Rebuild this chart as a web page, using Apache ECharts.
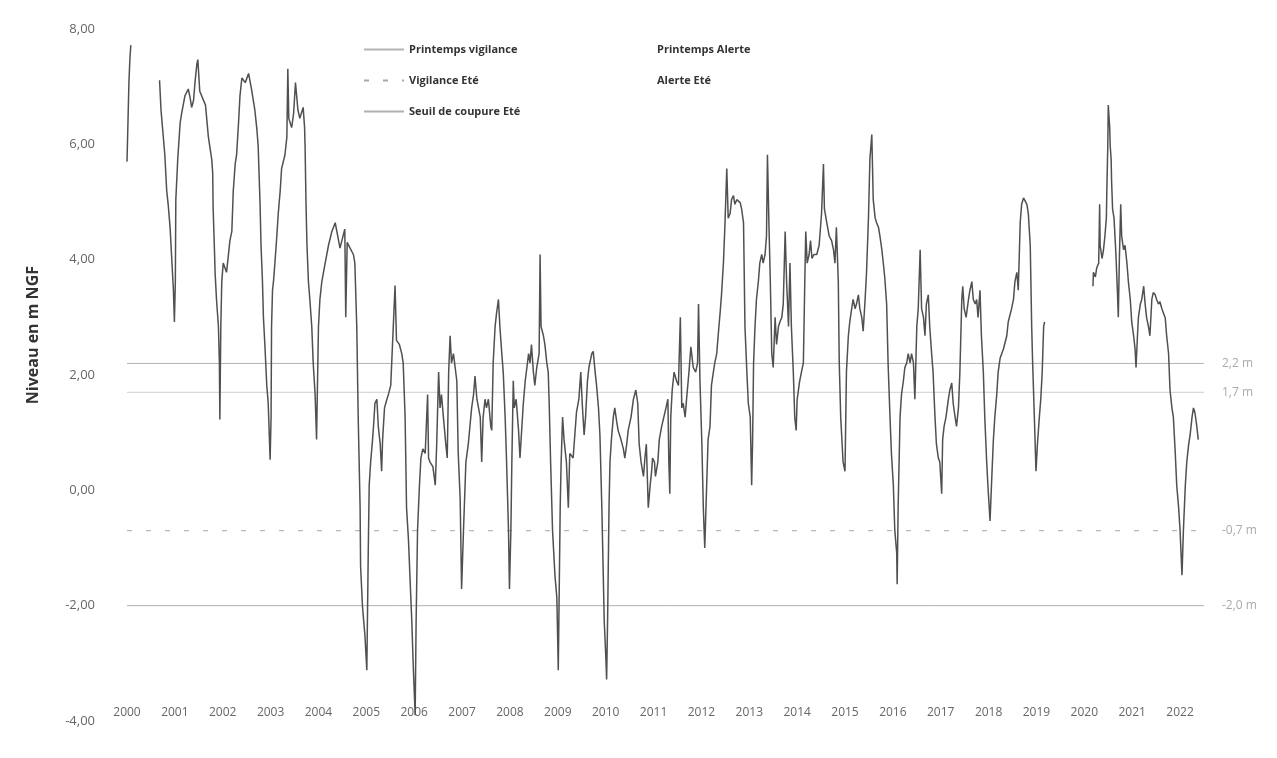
<!DOCTYPE html>
<html><head><meta charset="utf-8">
<script src="https://cdn.jsdelivr.net/npm/echarts@6/dist/echarts.min.js"></script>
<style>html,body{margin:0;padding:0;background:#fff;}#c{width:1277px;height:758px;}</style>
</head><body><div id="c"></div>
<script>
// Observed groundwater level (m NGF), decimal year / level ('-' = no data)
const obsYears = [
2000.00,2000.02,2000.04,2000.06,2000.08,2000.38,
2000.68,2000.71,2000.79,2000.83,2000.86,2000.90,2000.93,2000.97,2000.99,2001.01,2001.02,2001.06,2001.11,2001.14,2001.21,2001.28,2001.32,2001.35,2001.39,2001.42,2001.46,2001.48,2001.52,
2001.64,2001.70,2001.77,2001.79,2001.80,2001.83,2001.84,2001.87,2001.91,2001.93,2001.94,2001.96,2001.98,2002.01,2002.08,2002.15,2002.19,2002.22,2002.26,2002.29,2002.33,2002.36,2002.40,2002.47,2002.54,2002.60,2002.67,2002.71,2002.74,
2002.78,2002.80,2002.83,2002.85,2002.88,2002.92,2002.95,2002.99,2003.01,2003.02,2003.04,2003.06,2003.09,2003.13,2003.16,2003.20,2003.23,2003.30,2003.34,2003.36,2003.38,2003.44,2003.48,2003.52,2003.57,2003.61,2003.68,2003.71,2003.72,
2003.74,2003.76,2003.79,2003.82,2003.86,2003.89,2003.93,2003.96,2004.00,2004.03,2004.07,2004.14,2004.21,2004.28,2004.35,2004.45,2004.55,2004.57,2004.60,2004.66,2004.73,2004.76,2004.80,2004.83,2004.87,2004.88,2004.92,2004.97,
2005.01,2005.04,2005.06,2005.09,2005.13,2005.15,2005.18,2005.22,2005.25,2005.29,2005.32,2005.34,2005.38,2005.43,2005.46,2005.51,2005.60,2005.63,2005.69,2005.74,2005.77,2005.81,2005.84,2005.88,2005.91,2005.95,2005.98,
2006.02,2006.04,2006.07,2006.11,2006.14,2006.18,2006.23,2006.28,2006.30,2006.33,2006.39,2006.44,2006.47,2006.51,2006.54,2006.57,2006.61,2006.66,2006.69,2006.72,2006.75,2006.78,2006.82,2006.85,2006.89,2006.92,2006.96,2006.99,
2007.03,2007.08,2007.13,2007.20,2007.24,2007.27,2007.31,2007.38,2007.41,2007.44,2007.48,2007.51,2007.55,2007.60,2007.62,2007.65,2007.69,2007.72,2007.76,2007.79,2007.83,2007.86,2007.90,2007.93,2007.97,2007.99,
2008.02,2008.04,2008.07,2008.09,2008.13,2008.18,2008.21,2008.25,2008.28,2008.32,2008.39,2008.42,2008.45,2008.49,2008.52,2008.56,2008.61,2008.63,2008.65,2008.70,2008.73,2008.77,2008.80,2008.82,2008.85,2008.89,2008.94,2008.98,
2009.01,2009.05,2009.07,2009.10,2009.13,2009.18,2009.22,2009.25,2009.32,2009.39,2009.44,2009.48,2009.51,2009.55,2009.58,2009.62,2009.65,2009.71,2009.74,2009.78,2009.81,2009.85,2009.88,2009.92,2009.94,2009.97,
2010.00,2010.02,2010.04,2010.07,2010.09,2010.12,2010.16,2010.19,2010.23,2010.26,2010.32,2010.37,2010.40,2010.44,2010.47,2010.53,2010.58,2010.63,2010.67,2010.70,2010.74,2010.79,2010.82,2010.85,2010.89,2010.93,2010.96,2010.98,
2011.02,2011.04,2011.09,2011.12,2011.17,2011.20,2011.26,2011.30,2011.32,2011.34,2011.36,2011.39,2011.43,2011.48,2011.52,2011.56,2011.59,2011.62,2011.66,2011.69,2011.74,2011.78,2011.83,2011.88,2011.92,2011.94,2011.97,
2012.01,2012.04,2012.07,2012.11,2012.14,2012.18,2012.21,2012.25,2012.28,2012.32,2012.35,2012.39,2012.42,2012.46,2012.49,2012.53,2012.56,2012.60,2012.63,2012.67,2012.70,2012.74,2012.77,2012.81,2012.84,2012.88,2012.91,2012.95,2012.98,
2013.02,2013.05,2013.07,2013.09,2013.12,2013.15,2013.19,2013.22,2013.26,2013.29,2013.33,2013.36,2013.38,2013.41,2013.44,2013.47,2013.50,2013.54,2013.57,2013.61,2013.64,2013.68,2013.71,2013.75,2013.78,2013.82,
2013.85,2013.88,2013.92,2013.95,2013.98,2014.00,2014.05,2014.09,2014.13,2014.16,2014.18,2014.21,2014.25,2014.28,2014.31,2014.35,2014.41,2014.46,2014.51,2014.55,2014.57,2014.62,2014.67,2014.72,2014.76,2014.79,2014.82,2014.86,2014.88,2014.91,2014.94,2014.96,
2015.00,2015.03,2015.07,2015.10,2015.14,2015.17,2015.21,2015.24,2015.28,2015.31,2015.35,2015.38,2015.42,2015.45,2015.49,2015.52,2015.56,2015.59,2015.63,2015.66,2015.70,2015.73,2015.77,2015.80,2015.83,2015.87,2015.90,2015.94,2015.97,
2016.01,2016.04,2016.08,2016.09,2016.11,2016.15,2016.18,2016.22,2016.25,2016.29,2016.32,2016.36,2016.39,2016.43,2016.46,2016.50,2016.53,2016.57,2016.60,2016.64,2016.67,2016.70,2016.74,2016.77,2016.81,2016.84,2016.88,2016.91,2016.95,2016.98,
2017.02,2017.04,2017.07,2017.11,2017.16,2017.19,2017.23,2017.26,2017.30,2017.33,2017.37,2017.40,2017.44,2017.46,2017.49,2017.53,2017.58,2017.61,2017.65,2017.68,2017.72,2017.75,2017.78,2017.82,2017.85,2017.89,2017.92,2017.96,2017.99,
2018.03,2018.06,2018.10,2018.13,2018.17,2018.20,2018.24,2018.31,2018.38,2018.41,2018.45,2018.48,2018.52,2018.55,2018.59,2018.62,2018.66,2018.69,2018.73,2018.76,2018.80,2018.83,2018.87,2018.90,2018.92,2018.95,2018.97,2018.99,
2019.02,2019.06,2019.09,2019.12,2019.15,2019.17,2019.60,
2020.18,2020.19,2020.23,2020.26,2020.30,2020.32,2020.33,2020.37,2020.40,2020.43,2020.46,2020.47,2020.49,2020.50,2020.53,2020.54,2020.56,2020.57,2020.59,2020.62,2020.64,2020.66,2020.69,2020.71,2020.73,2020.76,2020.78,2020.82,2020.85,2020.89,2020.92,2020.96,2020.99,
2021.03,2021.06,2021.08,2021.11,2021.13,2021.17,2021.20,2021.24,2021.27,2021.30,2021.34,2021.37,2021.41,2021.44,2021.48,2021.51,2021.55,2021.58,2021.62,2021.65,2021.69,2021.72,2021.76,2021.79,2021.83,2021.86,2021.90,2021.93,2021.97,
2022.00,2022.04,2022.07,2022.11,2022.14,2022.18,2022.21,2022.25,2022.28,2022.31,2022.35,2022.38
];
const obsLevels = [
5.70,6.37,7.07,7.47,7.72,'-',
7.11,6.60,5.82,5.19,4.96,4.56,4.09,3.47,2.92,3.62,5.04,5.74,6.37,6.53,6.84,6.96,6.80,6.64,6.76,7.07,7.39,7.47,6.92,
6.68,6.13,5.74,5.51,4.88,4.09,3.78,3.31,2.84,2.21,1.23,2.84,3.62,3.94,3.78,4.33,4.49,5.19,5.66,5.82,6.37,6.84,7.15,7.07,7.23,6.96,6.60,6.29,5.98,
4.96,4.25,3.62,3.00,2.53,1.82,1.51,0.53,1.27,2.84,3.47,3.62,3.94,4.41,4.80,5.19,5.58,5.82,6.13,7.31,6.45,6.29,6.53,7.07,6.60,6.45,6.64,6.29,5.98,
4.96,4.25,3.62,3.31,2.84,2.21,1.66,0.88,2.84,3.31,3.62,3.94,4.25,4.49,4.64,4.20,4.53,3.00,4.30,4.20,4.09,3.94,2.84,1.27,-0.30,-1.32,-2.02,-2.51,
-3.12,-1.08,0.09,0.49,0.88,1.11,1.51,1.58,1.11,0.80,0.33,0.88,1.43,1.58,1.66,1.82,3.55,2.60,2.53,2.37,2.21,1.27,-0.30,-0.85,-1.47,-2.27,-3.04,
-3.90,-2.27,-0.69,0.09,0.56,0.72,0.64,1.66,0.56,0.49,0.41,0.09,0.80,2.05,1.43,1.66,1.27,0.80,0.56,2.05,2.68,2.21,2.37,2.37,1.90,0.64,-0.14,-1.71,
-0.69,0.49,0.80,1.43,1.66,1.98,1.58,1.27,0.49,1.27,1.58,1.43,1.58,1.11,1.04,2.21,2.84,3.07,3.31,2.84,2.37,2.05,1.27,0.49,-0.69,-1.71,
-0.69,0.49,1.90,1.43,1.58,1.04,0.56,1.11,1.51,1.90,2.37,2.21,2.53,2.05,1.82,2.13,2.37,4.09,2.84,2.68,2.53,2.21,2.05,1.51,0.49,-0.69,-1.47,-1.86,
-3.12,-0.30,0.49,1.27,0.88,0.49,-0.30,0.64,0.56,1.35,1.58,2.05,1.51,0.96,1.27,1.90,2.13,2.37,2.41,2.05,1.82,1.43,0.96,-0.30,-1.08,-2.27,
-2.82,-3.28,-2.27,-0.30,0.49,0.88,1.27,1.43,1.19,1.04,0.88,0.72,0.56,0.80,1.04,1.27,1.58,1.74,1.51,0.80,0.49,0.24,0.56,0.80,-0.30,0.09,0.33,0.56,
0.49,0.24,0.49,0.88,1.11,1.11,1.43,1.58,0.49,-0.06,1.27,1.74,2.05,1.90,1.82,3.00,1.43,1.51,1.27,1.58,2.05,2.49,2.13,2.05,2.21,3.23,1.90,
0.80,-0.30,-1.00,0.09,0.88,1.11,1.82,2.05,2.21,2.37,2.68,3.07,3.39,3.94,4.56,5.58,4.72,4.80,5.04,5.11,4.96,5.04,5.07,4.99,4.88,4.64,2.84,2.05,1.51,
1.27,0.09,0.88,2.21,2.84,3.31,3.62,3.94,4.09,3.94,4.09,4.41,5.82,4.64,3.62,2.37,2.13,3.00,2.53,2.84,2.92,3.00,3.23,4.49,3.62,2.84,
3.94,2.84,2.05,1.27,1.04,1.57,1.88,2.05,2.21,3.62,4.49,3.94,4.09,4.33,4.02,4.09,4.09,4.25,4.80,5.66,4.88,4.64,4.41,4.33,4.17,3.94,4.56,3.62,2.21,1.27,0.80,0.49,
0.33,2.05,2.68,2.92,3.15,3.31,3.15,3.23,3.39,3.15,3.00,2.76,3.31,3.78,4.72,5.74,6.17,5.04,4.72,4.64,4.56,4.41,4.17,3.94,3.70,3.23,2.21,1.27,0.64,
0.09,-0.69,-1.08,-1.63,-0.30,1.27,1.66,1.90,2.13,2.21,2.37,2.21,2.37,2.21,1.58,2.84,3.15,4.17,3.15,3.00,2.68,3.23,3.39,2.84,2.37,2.05,1.27,0.80,0.56,0.49,
-0.06,0.88,1.11,1.27,1.58,1.74,1.86,1.51,1.27,1.11,1.43,2.05,3.31,3.54,3.15,3.00,3.31,3.47,3.62,3.31,3.23,3.31,3.00,3.47,2.68,2.05,1.27,0.49,0.02,
-0.53,0.09,0.88,1.27,1.66,2.05,2.29,2.45,2.68,2.92,2.92,3.15,3.31,3.62,3.78,3.47,4.64,4.96,5.07,5.04,4.96,4.80,4.25,2.84,2.21,1.43,0.88,0.33,
0.80,1.27,1.58,2.05,2.84,2.92,'-',
3.54,3.78,3.70,3.86,3.94,4.96,4.25,4.02,4.17,4.41,4.72,5.19,5.98,6.68,6.29,5.98,5.74,5.35,4.88,4.72,4.41,4.09,3.47,3.00,3.94,4.96,4.41,4.17,4.25,3.94,3.62,3.31,2.92,
2.68,2.45,2.13,2.68,3.00,3.23,3.31,3.54,3.23,3.00,2.84,2.68,3.31,3.43,3.39,3.31,3.23,3.27,3.15,3.15,2.99,2.68,2.37,1.74,1.43,1.27,0.64,0.09,-0.30,
-0.69,-1.47,-0.69,0.09,0.49,0.80,0.96,1.27,1.43,1.35,1.11,0.88
];

// Threshold levels (m NGF)
const thresholdNames  = ['Printemps vigilance', 'Vigilance Eté', 'Seuil de coupure Eté', 'Printemps Alerte', 'Alerte Eté'];
const thresholdLevels = [2.2, -0.7, -2.0, 1.7, null];
const thresholdLabels = ['2,2 m', '-0,7 m', '-2,0 m', '1,7 m', ''];
const periodStart = 2000, periodEnd = 2022.5;
const yTicks = { min: -4, max: 8, step: 2 };

const thresholdStyles = [
  { color: '#b4b4b4', type: 'solid', width: 1 },
  { color: '#a8a8a8', type: [5, 14], width: 1 },
  { color: '#b0b0b0', type: 'solid', width: 1 },
  { color: '#cfcfcf', type: 'solid', width: 1 },
  { color: '#e6e6e6', type: 'solid', width: 1 }
];

const font = '"Open Sans", "Noto Sans", sans-serif';
const chart = echarts.init(document.getElementById('c'), null, { renderer: 'canvas' });

const series = [{
  name: 'Niveau',
  type: 'line',
  data: obsYears.map((y, i) => [y, obsLevels[i]]),
  symbol: 'none',
  connectNulls: false,
  lineStyle: { color: '#505050', width: 1.5 },
  z: 5
}];
thresholdNames.forEach((n, i) => {
  const lv = thresholdLevels[i];
  series.push({
    name: n,
    type: 'line',
    symbol: 'none',
    data: lv === null ? [] : [[periodStart, lv], [periodEnd, lv]],
    lineStyle: thresholdStyles[i],
    itemStyle: { color: thresholdStyles[i].color },
    endLabel: {
      show: lv !== null,
      formatter: thresholdLabels[i],
      distance: 18,
      color: '#aaaaaa',
      fontSize: 12,
      fontFamily: font
    },
    z: 2,
    silent: true
  });
});

const legendText = { fontFamily: font, fontSize: 11, fontWeight: 'bold', color: '#333' };
chart.setOption({
  animation: false,
  backgroundColor: '#ffffff',
  grid: { left: 127, right: 73, top: 29, bottom: 37 },
  legend: [
    { orient: 'vertical', left: 358, top: 39, itemWidth: 40, itemHeight: 10, itemGap: 20,
      data: thresholdNames.slice(0, 3).map(n => ({ name: n, itemStyle: { opacity: 0 } })),
      textStyle: legendText },
    { orient: 'vertical', left: 606, top: 39, itemWidth: 40, itemHeight: 10, itemGap: 20,
      data: thresholdNames.slice(3).map(n => ({ name: n, lineStyle: { opacity: 0 }, itemStyle: { opacity: 0 } })),
      textStyle: legendText }
  ],
  xAxis: {
    type: 'value', min: periodStart, max: periodEnd, interval: 1,
    offset: -22,
    axisLine: { show: false }, axisTick: { show: false }, splitLine: { show: false },
    axisLabel: {
      color: '#666', fontSize: 12, fontFamily: font, showMaxLabel: false,
      formatter: v => Number.isInteger(v) ? String(v) : ''
    }
  },
  yAxis: {
    type: 'value', min: yTicks.min, max: yTicks.max, interval: yTicks.step,
    axisLine: { show: false }, axisTick: { show: false }, splitLine: { show: false },
    axisLabel: {
      color: '#666', fontSize: 13, fontFamily: font, margin: 32,
      formatter: v => v.toFixed(2).replace('.', ',')
    }
  },
  graphic: [{
    type: 'text', left: 25, top: 266, rotation: Math.PI / 2,
    style: { text: 'Niveau en m NGF', fill: '#333', font: 'bold 16px ' + font }
  }],
  series: series
});
</script></body></html>
